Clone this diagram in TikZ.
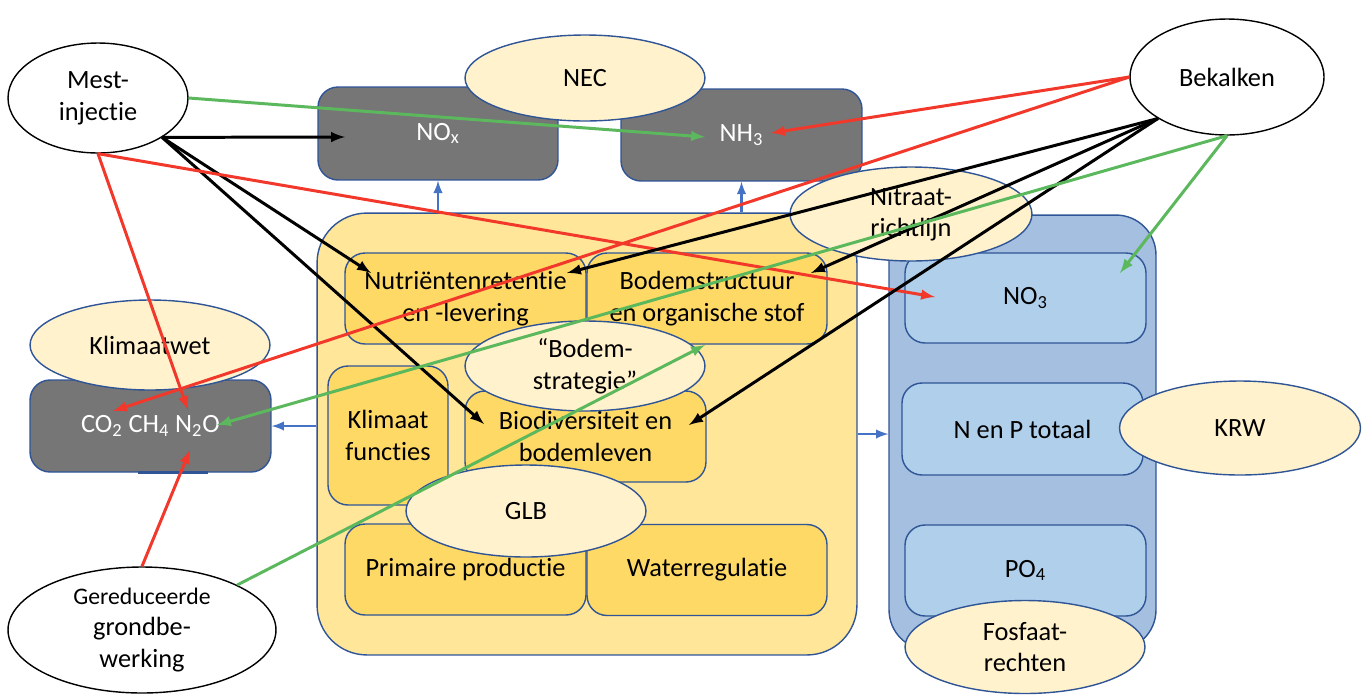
\documentclass[tikz,border=0pt]{standalone}
\usepackage{fontspec}
\setmainfont{Carlito}[Ligatures=NoCommon, RawFeature={-liga;-clig;-calt}]
\usetikzlibrary{calc}
\usetikzlibrary{arrows}
\usetikzlibrary{shapes.geometric}
\definecolor{SoilYellow}{HTML}{FFE699}
\definecolor{BoxYellow}{HTML}{FFD966}
\definecolor{LawYellow}{HTML}{FFF2CC}
\definecolor{EdgeBlue}{HTML}{2F5597}
\definecolor{WaterBlue}{HTML}{A4BFE0}
\definecolor{BoxBlue}{HTML}{AFCFEA}
\definecolor{GasGray}{HTML}{767676}
\definecolor{ArrowRed}{HTML}{F2382A}
\definecolor{ArrowGreen}{HTML}{5CB85C}
\definecolor{FlowBlue}{HTML}{4472C4}

\begin{document}
\begin{tikzpicture}[x=0.02cm, y=-0.02cm,
  every node/.style={font=\fontsize{15}{18}\selectfont, align=center, inner sep=0pt},
  box/.style={draw=EdgeBlue, line width=0.8pt, rounded corners=0.4cm,
    minimum width=4.82cm, minimum height=1.82cm},
  gasbox/.style={box, fill=GasGray, text=white},
  soilbox/.style={box, fill=BoxYellow},
  waterbox/.style={box, fill=BoxBlue},
  law/.style={ellipse, draw=EdgeBlue, line width=0.8pt, fill=LawYellow,
    minimum width=4.8cm, minimum height=1.84cm},
  measure/.style={ellipse, draw=black, line width=0.8pt, fill=white},
  flow/.style={line width=1.4pt, FlowBlue, -latex},
  effect/.style={line width=1.7pt, -latex}]
  \useasboundingbox (0,0) rectangle (1362,694);

  % containers
  \node[box, fill=SoilYellow, rounded corners=1cm,
    minimum width=10.8cm, minimum height=8.84cm] (soil) at (587,434) {};
  \node[box, fill=WaterBlue, rounded corners=0.8cm,
    minimum width=5.34cm, minimum height=8.7cm] (water) at (1022.5,432.5) {};

  % emissions to air
  \node[gasbox, minimum width=4.8cm, minimum height=1.86cm] (nox) at (438,133.5) {NO\textsubscript{x}};
  \node[gasbox, minimum height=1.84cm] (nh3) at (741.5,135) {NH\textsubscript{3}};
  \node[gasbox, minimum height=1.84cm] (ghg) at (150.5,426)
    {CO\textsubscript{2} CH\textsubscript{4} N\textsubscript{2}O};
  \draw[EdgeBlue, line width=2pt] ($(ghg.south)+(-12.5,0)$) -- ++(70,0);

  % soil functions
  \node[soilbox] (nutr) at (465.5,298.5) {Nutriëntenretentie\\en -levering};
  \node[soilbox, minimum width=4.8cm] (bodem) at (707,298.5) {Bodemstructuur\\en organische stof};
  \node[soilbox, minimum width=2.4cm, minimum height=2.78cm] (klim) at (388,435.5) {Klimaat\\functies};
  \node[soilbox] (biodiv) at (585.5,436.5) {Biodiversiteit en\\bodemleven};
  \node[soilbox] (prim) at (465.5,569.5) {Primaire productie};
  \node[soilbox, minimum width=4.8cm] (wreg) at (707,570) {Waterregulatie};

  % water quality
  \node[waterbox, minimum height=1.8cm] (no3) at (1025.5,298) {NO\textsubscript{3}};
  \node[waterbox, minimum height=1.84cm] (np) at (1022.5,429) {N en P totaal};
  \node[waterbox] (po4) at (1025.5,570.5) {PO\textsubscript{4}};

  % flows
  \draw[flow] (soil.north -| nox.south) -- (nox.south);
  \draw[flow] (soil.north -| nh3.south) -- (nh3.south);
  \draw[flow] (soil.west |- ghg.east) -- (ghg.east);
  \draw[flow] (soil.east) -- (soil.east -| water.west);

  % policy
  \node[law, minimum height=1.72cm] (nec) at (585,78) {NEC};
  \node[law, minimum height=1.8cm] (kwet) at (150,345) {Klimaatwet};
  \node[law, minimum width=4.84cm, minimum height=1.88cm] (nitr) at (911,214) {Nitraat-\\richtlijn};
  \node[law, minimum height=1.8cm] (strat) at (585,366) {“Bodem-\\strategie”};
  \node[law] (glb) at (526,511) {GLB};
  \node[law, minimum width=4.82cm, minimum height=1.88cm] (krw) at (1240,428) {KRW};
  \node[law, minimum height=1.86cm] (fosf) at (1025,647) {Fosfaat-\\rechten};

  % measures
  \node[measure, minimum width=3.6cm, minimum height=2.2cm] (mest) at (98,98) {Mest-\\injectie};
  \node[measure, minimum width=3.88cm, minimum height=2.32cm] (bek) at (1227,77) {Bekalken};
  \node[measure, minimum width=5.36cm, minimum height=2.52cm] (grond) at (142,630)
    {{\fontsize{13.5}{16}\selectfont Gereduceerde}\\grondbe-\\werking};

  % effects of Mest-injectie
  \draw[effect, ArrowGreen] (mest.east) -- ($(nh3)+(-36.5,2)$);
  \draw[effect] (mest.south east) -- ($(nox)+(-93,3.5)$);
  \draw[effect] (mest.south east) -- ($(nutr)+(-94.5,-25.5)$);
  \draw[effect] (mest.south east) -- ($(biodiv)+(-101.5,-12.5)$);
  \draw[effect, ArrowRed] (mest.south) -- ($(no3)+(-90.5,-1)$);
  \draw[effect, ArrowRed] (mest.south) -- ($(ghg)+(37.5,-16)$);

  % effects of Bekalken
  \draw[effect, ArrowRed] (bek.west) -- ($(nh3)+(29.5,-2)$);
  \draw[effect, ArrowRed] (bek.west) -- ($(ghg)+(-37.5,-15)$);
  \draw[effect] (bek.south west) -- ($(nutr)+(101.5,-25.5)$);
  \draw[effect] (bek.south west) -- ($(bodem)+(104,-25.5)$);
  \draw[effect] (bek.south west) -- ($(biodiv)+(103.5,-11.5)$);
  \draw[effect, ArrowGreen] (bek.south) -- ($(no3)+(94.5,-25)$);
  \draw[effect, ArrowGreen] (bek.south) -- ($(ghg)+(66.5,-1)$);

  % effects of gereduceerde grondbewerking
  \draw[effect, ArrowRed] (grond.north) -- ($(ghg)+(39.5,24)$);
  \draw[effect, ArrowGreen] (grond.north east) -- ($(strat)+(120,-21)$);
\end{tikzpicture}
\end{document}
